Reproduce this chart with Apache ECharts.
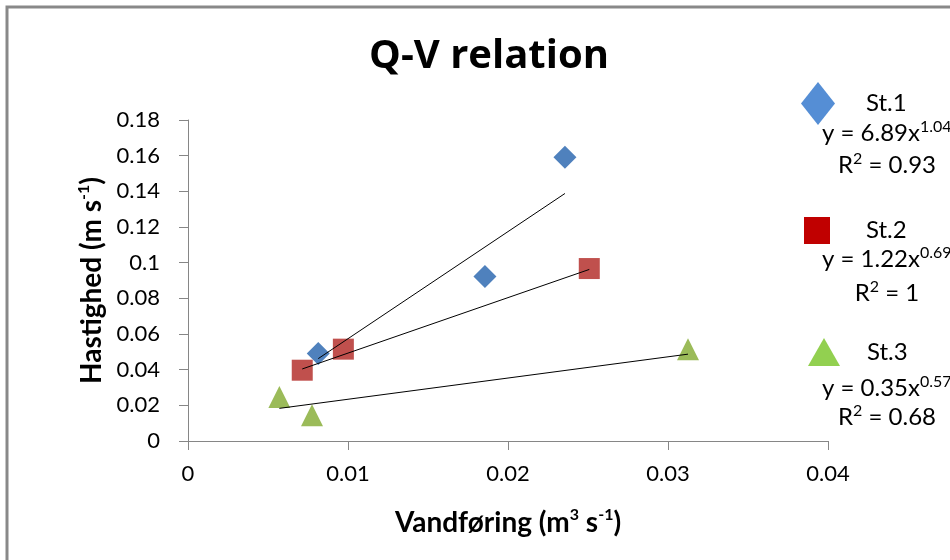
<!DOCTYPE html>
<html lang="da" style="height: 100%">
<head>
  <meta charset="utf-8">
</head>
<body style="height: 100%; margin: 0">
  <div id="container" style="width: 950px; height: 560px"></div>

  <script type="text/javascript" src="https://cdn.jsdelivr.net/npm/echarts@6/dist/echarts.min.js"></script>
  <script type="text/javascript">
    // Q (vandføring) / V (hastighed) per station
    var st1 = [[0.00814, 0.0490], [0.01856, 0.0922], [0.02356, 0.1591]];
    var st2 = [[0.00714, 0.0397], [0.00971, 0.0515], [0.02508, 0.0967]];
    var st3 = [[0.00571, 0.0247], [0.00775, 0.0144], [0.03125, 0.0515]];

    // trendline endpoints
    var trend1 = [[0.00814, 0.0462], [0.02356, 0.1388]];
    var trend2 = [[0.00714, 0.0404], [0.02508, 0.0962]];
    var trend3 = [[0.00571, 0.0183], [0.03125, 0.0487]];

    var stationNames = ['St.1', 'St.2', 'St.3'];
    var equations = ['y = 6.89x', 'y = 1.22x', 'y = 0.35x'];
    var exponents = ['1.04', '0.69', '0.57'];
    var r2Values = ['0.93', '1', '0.68'];

    var font = 'Lato';
    var colors = ['#4F81BD', '#C0504D', '#9BBB59'];
    var legendColors = ['#558ED5', '#C00000', '#92D050'];

    var dom = document.getElementById('container');
    var myChart = echarts.init(dom, null, { renderer: 'canvas' });

    var supRich = {
      n: { fontFamily: font, fontSize: 24, color: '#000', lineHeight: 28 },
      s: { fontFamily: font, fontSize: 16, color: '#000', verticalAlign: 'top', lineHeight: 28 }
    };

    // equation + R² text under each legend entry
    var eqY = [[133, 165], [259, 293], [388, 417]];
    var eqText = [];
    for (var i = 0; i < 3; i++) {
      eqText.push({
        type: 'text', x: 822, y: eqY[i][0],
        style: { text: '{n|' + equations[i] + '}{s|' + exponents[i] + '}', rich: supRich, align: 'left', verticalAlign: 'middle' }
      });
      eqText.push({
        type: 'text', x: 887, y: eqY[i][1],
        style: { text: '{n|R}{s|2}{n| = ' + r2Values[i] + '}', rich: supRich, align: 'center', verticalAlign: 'middle' }
      });
    }

    function legendFor(idx, icon, w, h, left, top, pad) {
      return {
        data: [{ name: stationNames[idx], icon: icon, symbolKeepAspect: false }],
        left: left, top: top,
        itemWidth: w, itemHeight: h,
        symbolKeepAspect: false,
        selectedMode: false,
        itemStyle: { color: legendColors[idx], borderWidth: 0, opacity: 1 },
        formatter: '{t|{name}}',
        textStyle: {
          rich: { t: { fontFamily: font, fontSize: 24, color: '#000', padding: [0, 0, 0, pad] } }
        }
      };
    }

    function trendSeries(data) {
      return {
        type: 'line', data: data, symbol: 'none', silent: true, z: 5,
        lineStyle: { color: '#000', width: 1 }
      };
    }

    var nameRich = {
      b: { fontFamily: font, fontSize: 28, fontWeight: 'bold', color: '#000', lineHeight: 32 },
      s: { fontFamily: font, fontSize: 16, fontWeight: 'bold', color: '#000', verticalAlign: 'top', lineHeight: 32 }
    };

    var option = {
      animation: false,
      backgroundColor: '#fff',
      title: {
        text: 'Q-V relation',
        left: 484, top: 32, textAlign: 'center',
        textStyle: { fontFamily: 'Open Sans', fontSize: 40, fontWeight: 'bold', color: '#000' }
      },
      legend: [
        legendFor(0, 'diamond', 34, 43, 796, 77, 26),
        legendFor(1, 'rect', 26, 27, 799, 212, 31),
        legendFor(2, 'triangle', 32, 28, 803, 333, 22)
      ],
      grid: { left: 188, right: 122, top: 120, bottom: 119 },
      xAxis: {
        type: 'value', min: 0, max: 0.04, interval: 0.01,
        name: '{b|Vandføring (m}{s|3}{b| s}{s|-1}{b|)}',
        nameLocation: 'middle', nameGap: 66,
        nameTextStyle: { rich: nameRich },
        splitLine: { show: false },
        axisLine: { lineStyle: { color: '#868686' } },
        axisTick: { length: 9, lineStyle: { color: '#868686' } },
        axisLabel: { fontFamily: font, fontSize: 22, color: '#000', margin: 22 }
      },
      yAxis: {
        type: 'value', min: 0, max: 0.18, interval: 0.02,
        name: '{b|Hastighed (m s}{s|-1}{b|)}',
        nameLocation: 'middle', nameGap: 80, nameRotate: 90,
        nameTextStyle: { rich: nameRich },
        splitLine: { show: false },
        axisLine: { show: true, lineStyle: { color: '#868686' } },
        axisTick: { show: true, length: 9, lineStyle: { color: '#868686' } },
        axisLabel: { fontFamily: font, fontSize: 22, color: '#000', margin: 28 }
      },
      graphic: [{
        type: 'rect', silent: true,
        shape: { x: 7, y: 7, width: 1000, height: 1000 },
        style: { fill: 'none', stroke: '#898989', lineWidth: 3 }
      }].concat(eqText),
      series: [
        { name: 'St.1', type: 'scatter', data: st1, symbol: 'diamond', symbolSize: 23, itemStyle: { color: colors[0], opacity: 1 } },
        { name: 'St.2', type: 'scatter', data: st2, symbol: 'rect', symbolSize: 21, itemStyle: { color: colors[1], opacity: 1 } },
        { name: 'St.3', type: 'scatter', data: st3, symbol: 'triangle', symbolSize: 22, itemStyle: { color: colors[2], opacity: 1 } },
        trendSeries(trend1),
        trendSeries(trend2),
        trendSeries(trend3)
      ]
    };

    myChart.setOption(option);
    window.addEventListener('resize', myChart.resize);
  </script>
</body>
</html>
